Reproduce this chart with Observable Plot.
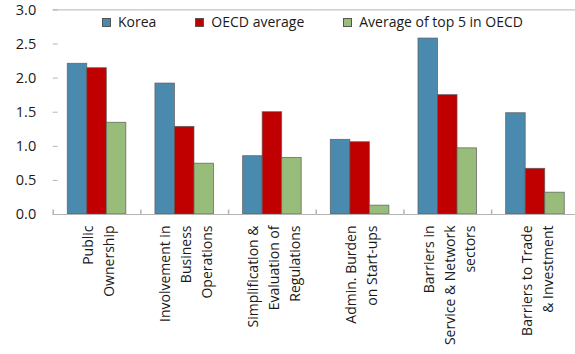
<!DOCTYPE html>
<html>
<head>
<meta charset="utf-8">
<script src="https://cdn.jsdelivr.net/npm/d3@7"></script>
<script src="https://cdn.jsdelivr.net/npm/@observablehq/plot@0.6"></script>
<style>
  html, body { margin: 0; padding: 0; background: #fff; overflow: hidden; }
  #wrap { position: relative; width: 575px; height: 354px; font-family: "Open Sans", sans-serif; }
  #legend { position: absolute; left: 102px; top: 12px; display: flex; gap: 39px; font-size: 14px; color: #1a1a1a; line-height: 20px; }
  #legend .item { display: flex; align-items: center; white-space: nowrap; }
  #legend .sw { width: 7px; height: 7px; border: 1px solid #555; margin-right: 7px; }
</style>
</head>
<body>
<div id="wrap">
  <div id="chart"></div>
  <div id="legend"></div>
</div>
<script>
const categories = [
  "Public\nOwnership",
  "Involvement in\nBusiness\nOperations",
  "Simplification &\nEvaluation of\nRegulations",
  "Admin. Burden\non Start-ups",
  "Barriers in\nService & Network\nsectors",
  "Barriers to Trade\n& Investment"
];
const series = ["Korea", "OECD average", "Average of top 5 in OECD"];
const korea = [2.21, 1.92, 0.855, 1.095, 2.58, 1.485];
const oecdAverage = [2.145, 1.285, 1.50, 1.06, 1.75, 0.67];
const top5Average = [1.345, 0.745, 0.83, 0.13, 0.97, 0.32];
const yTicks = [0, 0.5, 1.0, 1.5, 2.0, 2.5, 3.0];
const colors = ["#4A8AAE", "#C00000", "#98BC79"];

const seriesValues = [korea, oecdAverage, top5Average];
const data = categories.flatMap((c, i) =>
  series.map((s, j) => ({category: c, series: s, value: seriesValues[j][i]}))
);

const axisGray = "#b4b4b4";
const boundaryTick = {draw(context) { context.moveTo(0, 0); context.lineTo(0, -5); }};

const chart = Plot.plot({
  width: 575,
  height: 354,
  marginLeft: 52.7,
  marginRight: -3.8,
  marginTop: 9.4,
  marginBottom: 140,
  style: {fontFamily: "Open Sans, sans-serif", fontSize: "14px", color: "#1a1a1a", background: "white"},
  fx: {domain: categories, padding: 0, axis: null, round: false},
  x: {domain: series, paddingInner: 0, paddingOuter: 0.745, axis: null, round: false},
  y: {domain: [0, 3], axis: null},
  color: {domain: series, range: colors},
  marks: [
    Plot.barY(data, {fx: "category", x: "series", y: "value", fill: "series", stroke: "#5a5a5a", strokeWidth: 0.8, strokeOpacity: 0.85}),
    Plot.ruleY([0], {stroke: axisGray}),
    Plot.ruleY([3], {stroke: axisGray}),
    Plot.dot([0], {frameAnchor: "bottom-left", symbol: boundaryTick, stroke: axisGray, fill: "none"}),
    Plot.axisY({ticks: yTicks, tickFormat: d => d.toFixed(1), tickSize: -5, tickPadding: 22, stroke: axisGray, fill: "#1a1a1a", line: true, label: null, fontSize: 14.5}),
    Plot.text(categories, {fx: d => d, text: d => d, frameAnchor: "bottom", rotate: -90, textAnchor: "end", lineAnchor: "middle", lineHeight: 1.5, dy: 11, fill: "#1a1a1a", fontSize: 14, ariaLabel: "category labels"})
  ]
});

document.getElementById("chart").append(chart);

// center the lines of each rotated multi-line label within its block
chart.querySelectorAll('g[aria-label="category labels"] text').forEach(t => {
  const spans = t.querySelectorAll("tspan");
  const items = spans.length ? Array.from(spans) : [t];
  const w = Math.max(...items.map(s => s.getComputedTextLength()));
  t.setAttribute("text-anchor", "middle");
  items.forEach(s => s.setAttribute("x", -w / 2));
});

const legend = document.getElementById("legend");
series.forEach((s, i) => {
  const item = document.createElement("div");
  item.className = "item";
  const sw = document.createElement("div");
  sw.className = "sw";
  sw.style.background = colors[i];
  const label = document.createElement("span");
  label.textContent = s;
  item.append(sw, label);
  legend.append(item);
});
</script>
</body>
</html>
